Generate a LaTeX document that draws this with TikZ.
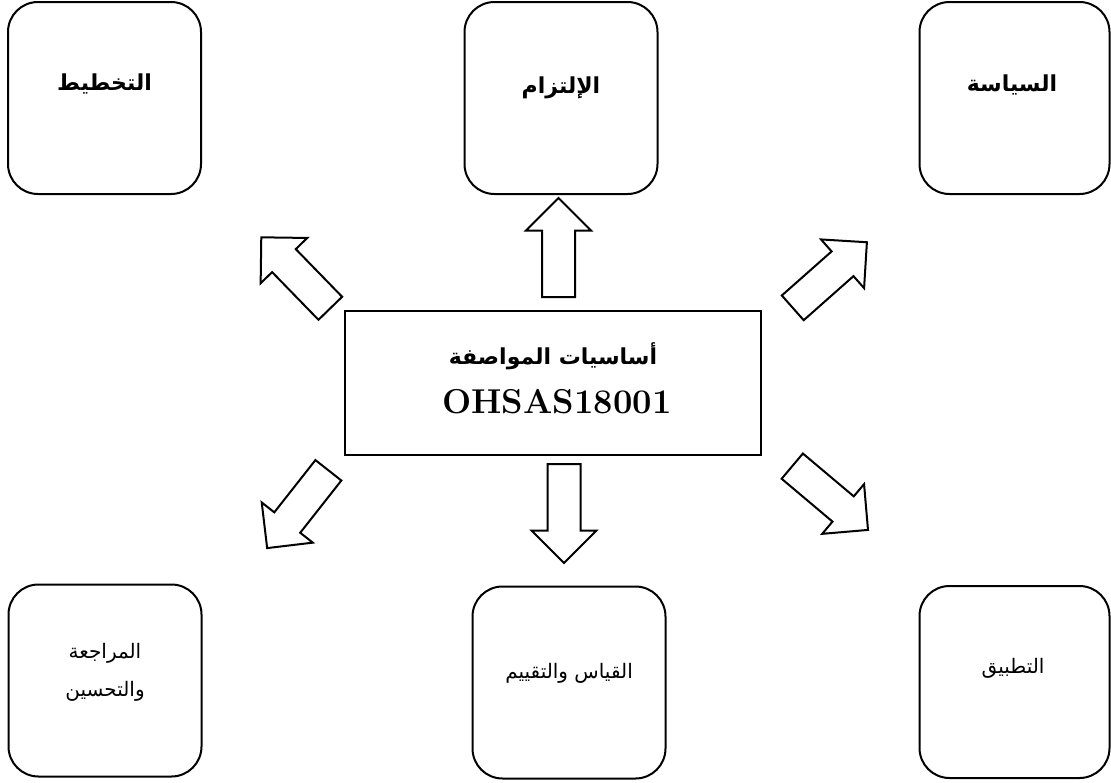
\documentclass[tikz,border=0pt]{standalone}
\usepackage{fontspec}
\usetikzlibrary{shapes.arrows}
\TeXXeTstate=1
\newfontfamily\arabicfont[Script=Arabic]{DejaVu Sans}
\begin{document}
\begin{tikzpicture}[x=1pt,y=-1pt,
  stage/.style={draw, line width=2pt, rounded corners=30pt, minimum width=193pt,
    minimum height=192pt, inner sep=0pt},
  hub/.style={draw, line width=2pt, minimum width=416pt, minimum height=144pt, inner sep=0pt},
  flowarrow/.style={draw, line width=2pt, single arrow, single arrow tip angle=90,
    single arrow head extend=16pt, minimum width=63pt, minimum height=99pt,
    inner xsep=0pt, inner ysep=15.5pt, anchor=tail},
  boldlabel/.style={font=\fontsize{22}{26}\selectfont\arabicfont\bfseries, inner sep=0pt},
  plainlabel/.style={font=\fontsize{20}{38}\selectfont\arabicfont, align=center, inner sep=0pt},
]
\useasboundingbox (0,0) rectangle (1111,782);

% central standard box
\node[hub] (hub) at (553,383) {};
\node[boldlabel, font=\fontsize{22}{26}\selectfont\arabicfont\bfseries] (hubtitle) at (553,356)
  {\beginR أساسيات المواصفة\endR};
\node[inner sep=0pt, font=\fontsize{34.5}{38}\selectfont\bfseries] (hubcode) at (557,402) {OHSAS18001};

% upper row
\node[stage] (plan) at (104.5,98) {};
\node[boldlabel] (plantext) at (104.5,84) {\beginR التخطيط\endR};
\node[stage] (commit) at (561,98) {};
\node[boldlabel] (committext) at (561,88) {\beginR الإلتزام\endR};
\node[stage, minimum width=190pt] (policy) at (1014.5,98) {};
\node[boldlabel] (policytext) at (1012,85) {\beginR السياسة\endR};

% lower row
\node[stage] (review) at (105,680.5) {};
\node[plainlabel] (reviewtext) at (105,672) {\beginR المراجعة\endR\\\beginR والتحسين\endR};
\node[stage] (measure) at (569,682.5) {};
\node[plainlabel] (measuretext) at (569,673) {\beginR القياس والتقييم\endR};
\node[stage, minimum width=190pt] (apply) at (1014.5,682) {};
\node[plainlabel] (applytext) at (1013,668) {\beginR التطبيق\endR};

% block arrows around the central box
\node[flowarrow, rotate=90] (toCommit) at (558.5,298) {};
\node[flowarrow, rotate=-90] (toMeasure) at (564,463) {};
\node[flowarrow, rotate=134.2] (toPlan) at (331,309) {};
\node[flowarrow, rotate=41.5] (toPolicy) at (792,308.5) {};
\node[flowarrow, rotate=231.8] (toReview) at (329,469.5) {};
\node[flowarrow, rotate=-40.1] (toApply) at (791.5,465.5) {};
\end{tikzpicture}
\end{document}
